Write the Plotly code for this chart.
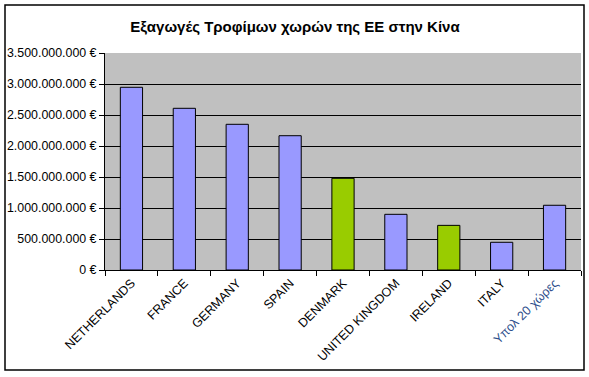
import plotly.graph_objects as go

countries = ["NETHERLANDS", "FRANCE", "GERMANY", "SPAIN", "DENMARK",
             "UNITED KINGDOM", "IRELAND", "ITALY", "Υπολ 20 χώρες"]
exports_eur = [2947000000, 2608000000, 2350000000, 2166000000, 1479000000,
               898000000, 720000000, 447000000, 1044000000]
highlighted = ["DENMARK", "IRELAND"]
y_tick_values = [0, 500000000, 1000000000, 1500000000, 2000000000,
                 2500000000, 3000000000, 3500000000]
title_text = "Εξαγωγές Τροφίμων χωρών της ΕΕ στην Κίνα"


def fmt_eur(v):
    return "{:,}".format(v).replace(",", ".") + " €"


colors = ["#99CC00" if c in highlighted else "#9999FF" for c in countries]
tick_text = [c if not c.startswith("Υπολ") else
             "<span style='color:#2E4F8C'>" + c + "</span>" for c in countries]

W, H = 589, 377
L, R, T, B = 105, 8, 53, 107
pw, ph = W - L - R, H - T - B

fig = go.Figure()
fig.add_trace(go.Bar(
    x=countries, y=exports_eur,
    marker=dict(color=colors, line=dict(color="black", width=1)),
    width=0.42,
))

# outer chart border in paper coords
x0 = (5 - L) / pw
x1 = (584 - L) / pw
y0 = (H - B - 370) / ph
y1 = (H - B - 5) / ph
fig.add_shape(type="rect", xref="paper", yref="paper",
              x0=x0, x1=x1, y0=y0, y1=y1,
              line=dict(color="black", width=1.5), fillcolor="rgba(0,0,0,0)",
              layer="above")

fig.update_layout(
    width=W, height=H,
    margin=dict(l=L, r=R, t=T, b=B, autoexpand=False),
    paper_bgcolor="white",
    plot_bgcolor="#C0C0C0",
    showlegend=False,
    font=dict(family="Arial, Liberation Sans, sans-serif", size=12, color="black"),
    title=dict(text="<b>" + title_text + "</b>", x=295 / W, xref="container",
               xanchor="center", y=1 - 27 / H, yref="container", yanchor="middle",
               font=dict(size=15, color="black")),
    xaxis=dict(
        type="category",
        tickangle=-45,
        ticktext=tick_text, tickvals=countries,
        tickson="boundaries",
        ticks="outside", ticklen=5, tickcolor="black",
        showline=True, linecolor="black", linewidth=1,
        showgrid=False,
        tickfont=dict(size=12.5, color="black"),
    ),
    yaxis=dict(
        range=[0, 3500000000],
        tickvals=y_tick_values,
        ticktext=[fmt_eur(v) for v in y_tick_values],
        ticks="outside", ticklen=5, tickcolor="black",
        showline=True, linecolor="black", linewidth=1,
        showgrid=True, gridcolor="black", gridwidth=1,
        zeroline=False,
        tickfont=dict(size=12.4, color="black"),
    ),
    bargap=0.58,
)

fig.write_html("out.html")
